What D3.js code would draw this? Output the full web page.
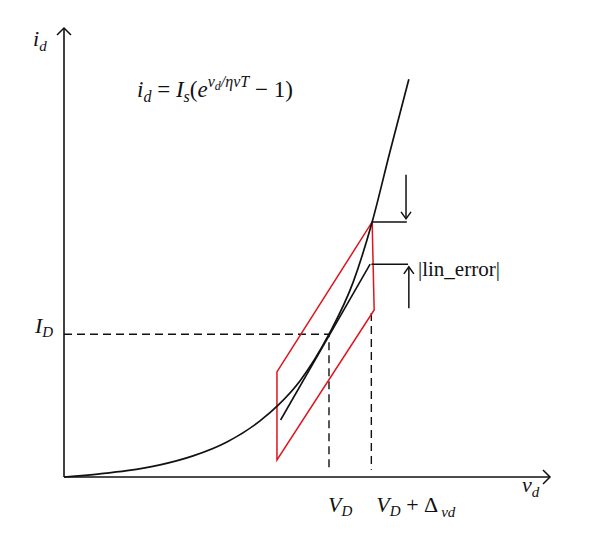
<!DOCTYPE html>
<html>
<head>
<meta charset="utf-8">
<script src="https://cdn.jsdelivr.net/npm/d3@7"></script>
<style>
  body { margin: 0; background: #fff; }
  text { font-family: "Liberation Serif", "DejaVu Serif", serif; fill: #111; }
</style>
</head>
<body>
<svg></svg>
<script>
// Chart size, same as the window.
var width = 600,
    height = 548;

// Diode curve (arbitrary units).
var curveV = [0, 0.89, 1.56, 2.38, 3.20, 4.04, 4.86, 5.31, 5.85, 6.57, 7.17, 7.64, 8.08, 8.55];
var curveI = [0, 0.07, 0.14, 0.27, 0.47, 0.78, 1.25, 1.60, 2.14, 3.18, 4.34, 5.68, 7.24, 8.86];

// Operating point and the shifted voltage.
var opV = 6.57, opI = 3.18;
var deltaV = 7.62, deltaTopI = 3.65;

// Linearisation (tangent) segment.
var tangentV = [5.37, 7.59];
var tangentI = [1.27, 4.74];

// Red trust region (parallelogram).
var boxV = [5.28, 7.64, 7.69, 5.28];
var boxI = [2.34, 5.68, 3.72, 0.38];

// Error markers: two horizontal ticks and two arrows.
var markI = [5.68, 4.74];
var markV0 = [7.64, 7.62];
var markV1 = [8.50, 8.53];
var arrowV = [8.48, 8.55];
var arrowFromI = [6.73, 3.76];
var arrowToI = [5.75, 4.68];

var svg = d3.select("svg")
    .attr("width", width)
    .attr("height", height);

var x = d3.scaleLinear().domain([0, 12]).range([64, 548]);
var y = d3.scaleLinear().domain([0, 10]).range([477, 28]);

var line = d3.line()
    .x(function(d) { return x(d[0]); })
    .y(function(d) { return y(d[1]); });

// Draws an open "V" arrowhead at (tx, ty) pointing along angle a.
function arrowHead(g, tx, ty, a, len, half) {
  var bx = tx - len * Math.cos(a), by = ty - len * Math.sin(a);
  var nx = -Math.sin(a), ny = Math.cos(a);
  g.append("path")
      .attr("d", "M" + (bx + half * nx) + "," + (by + half * ny) +
                 "L" + tx + "," + ty +
                 "L" + (bx - half * nx) + "," + (by - half * ny))
      .attr("fill", "none")
      .attr("stroke", "#111")
      .attr("stroke-width", 1.5);
}

// Axes with arrows.
var axes = svg.append("g");
axes.append("line")
    .attr("x1", x(0)).attr("y1", y(0))
    .attr("x2", x(0)).attr("y2", y(10))
    .attr("stroke", "#111").attr("stroke-width", 1.6);
axes.append("line")
    .attr("x1", x(0)).attr("y1", y(0))
    .attr("x2", x(12) + 2).attr("y2", y(0))
    .attr("stroke", "#111").attr("stroke-width", 1.6);
arrowHead(axes, x(0), y(10), -Math.PI / 2, 7, 7);
arrowHead(axes, x(12) + 2, y(0), 0, 7, 7);

// Dashed guides to the operating point.
svg.append("path")
    .attr("d", line([[0, opI], [opV, opI], [opV, 0.16]]))
    .attr("fill", "none")
    .attr("stroke", "#111")
    .attr("stroke-width", 1.4)
    .attr("stroke-dasharray", "8,5");
svg.append("path")
    .attr("d", line([[deltaV, deltaTopI], [deltaV, 0.16]]))
    .attr("fill", "none")
    .attr("stroke", "#111")
    .attr("stroke-width", 1.4)
    .attr("stroke-dasharray", "8,5");

// Red parallelogram.
svg.append("path")
    .attr("d", line(boxV.map(function(v, i) { return [v, boxI[i]]; })) + "Z")
    .attr("fill", "none")
    .attr("stroke", "#e0141e")
    .attr("stroke-width", 1.5);

// Diode curve.
var smooth = d3.line()
    .x(function(d) { return x(d[0]); })
    .y(function(d) { return y(d[1]); })
    .curve(d3.curveMonotoneX);
svg.append("path")
    .attr("d", smooth(curveV.map(function(v, i) { return [v, curveI[i]]; })))
    .attr("fill", "none")
    .attr("stroke", "#111")
    .attr("stroke-width", 1.7);

// Tangent.
svg.append("path")
    .attr("d", line([[tangentV[0], tangentI[0]], [tangentV[1], tangentI[1]]]))
    .attr("fill", "none")
    .attr("stroke", "#111")
    .attr("stroke-width", 1.6);

// Error markers.
markI.forEach(function(iv, k) {
  svg.append("path")
      .attr("d", line([[markV0[k], iv], [markV1[k], iv]]))
      .attr("fill", "none")
      .attr("stroke", "#111")
      .attr("stroke-width", 1.5);
});
arrowV.forEach(function(v, k) {
  svg.append("path")
      .attr("d", line([[v, arrowFromI[k]], [v, arrowToI[k]]]))
      .attr("fill", "none")
      .attr("stroke", "#111")
      .attr("stroke-width", 1.5);
  var a = arrowToI[k] < arrowFromI[k] ? Math.PI / 2 : -Math.PI / 2;
  arrowHead(svg, x(v), y(arrowToI[k]), a, 7, 5);
});

// Labels.
function label(px, py, size, parts) {
  var t = svg.append("text")
      .attr("x", px).attr("y", py)
      .style("font-size", size + "px");
  parts.forEach(function(p) {
    t.append("tspan")
        .attr("dy", p.dy || 0)
        .style("font-style", p.it ? "italic" : "normal")
        .style("font-size", p.fs ? p.fs + "px" : null)
        .text(p.t);
  });
  return t;
}

label(33, 46, 22, [{t: "i", it: true}, {t: "d", it: true, fs: 15, dy: 5}]);
label(522, 492, 22, [{t: "v", it: true}, {t: "d", it: true, fs: 15, dy: 5}]);
label(35, 333, 22, [{t: "I", it: true}, {t: "D", it: true, fs: 15, dy: 4}]);
label(x(opV) - 1, 512, 22, [{t: "V", it: true}, {t: "D", it: true, fs: 15, dy: 4}]);
label(x(deltaV) + 5, 512, 22, [
  {t: "V", it: true}, {t: "D", it: true, fs: 15, dy: 4},
  {t: " + \u0394", dy: -4}, {t: "\u2009vd", it: true, fs: 15, dy: 5}
]);
label(418, 276, 21, [{t: "|lin_error|"}]);
label(137, 97, 23, [
  {t: "i", it: true}, {t: "d", it: true, fs: 16, dy: 5},
  {t: " = ", dy: -5}, {t: "I", it: true}, {t: "s", it: true, fs: 16, dy: 5},
  {t: "(", dy: -5}, {t: "e", it: true},
  {t: "v", it: true, fs: 16, dy: -10}, {t: "d", it: true, fs: 12, dy: 3},
  {t: "/\u03b7vT", it: true, fs: 16, dy: -3},
  {t: " \u2212 1)", dy: 10}
]);
</script>
</body>
</html>
